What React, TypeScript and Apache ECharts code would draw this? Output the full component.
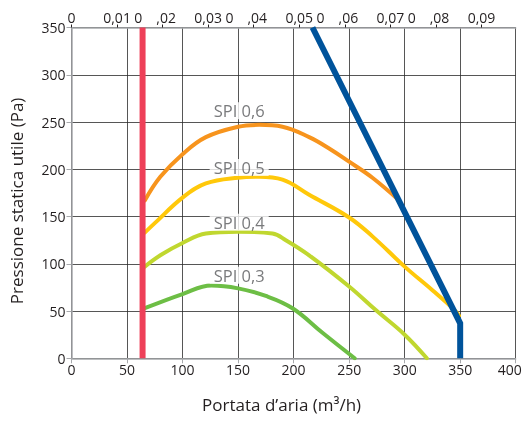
import React, { useEffect, useRef } from "react";
import * as echarts from "echarts";

// ---- data ----
const topTickLabels = ["0", "0,01", "0,02", "0,03", "0,04", "0,05", "0,06", "0,07", "0,08", "0,09"];

const curveNames = ["SPI 0,6", "SPI 0,5", "SPI 0,4", "SPI 0,3"];
const curveColors = ["#F7941D", "#FFC80A", "#C0D72F", "#6DBE45"];

const spi06 = [[66, 167], [80, 192], [100, 216], [121, 234], [150, 245], [169, 247], [190, 245], [214, 234], [232, 222], [250, 208], [271, 191], [295, 167]];
const spi05 = [[66, 133], [75, 143], [100, 170], [121, 185], [150, 191], [169, 192], [190, 189], [214, 173], [250, 149], [271, 129], [300, 97], [325, 72], [345, 51], [349, 45]];
const spi04 = [[66, 97], [80, 109], [100, 122], [121, 132], [150, 134], [181, 132], [193, 125], [214, 109], [250, 76], [274, 51], [300, 25], [320, 0]];
const spi03 = [[66, 53], [100, 68], [126, 77], [150, 74], [175, 66], [199, 53], [226, 27], [255, 0]];
const curves = [spi06, spi05, spi04, spi03];

const redLine = [[64, 0], [64, 350]];
const blueLine = [[217, 350], [350, 37], [350, 0]];

const labelX = [151, 151, 151, 151];
const labelY = [262, 202, 144, 88];

const FONT = "'Open Sans', 'Noto Sans', sans-serif";
const TXT = "#231F20";

export default function App() {
  const ref = useRef<HTMLDivElement>(null);
  useEffect(() => {
    document.body.style.margin = "0";
    document.body.style.overflow = "hidden";
    document.documentElement.style.overflow = "hidden";
    const chart = echarts.init(ref.current!, null, { renderer: "svg", width: 523, height: 423 });
    const topFormatter = (v: number) => {
      const i = Math.round(v * 100);
      if (Math.abs(v * 100 - i) > 1e-6 || i < 0 || i >= topTickLabels.length) return "";
      const s = topTickLabels[i];
      if (i > 0 && i % 2 === 0) {
        const k = s.indexOf(",");
        return `{a|${s.slice(0, k)}}{b|${s.slice(k)}}`;
      }
      return s;
    };
    const series: any[] = curves.map((d, i) => ({
      type: "line",
      name: curveNames[i],
      data: d,
      smooth: 0.4,
      showSymbol: false,
      symbol: "none",
      lineStyle: { color: curveColors[i], width: 4, cap: "round", join: "round" },
      z: 3,
    }));
    series.push({
      type: "line",
      data: blueLine,
      showSymbol: false,
      symbol: "none",
      lineStyle: { color: "#00539B", width: 6, join: "miter" },
      z: 4,
    });
    series.push({
      type: "line",
      data: redLine,
      showSymbol: false,
      symbol: "none",
      lineStyle: { color: "#EE4059", width: 6, cap: "butt" },
      z: 5,
    });
    series.push({
      type: "scatter",
      data: labelX.map((x, i) => [x, labelY[i], curveNames[i]]),
      symbolSize: 0,
      z: 6,
      label: {
        show: true,
        position: "inside",
        formatter: (p: any) => p.data[2],
        color: "#58595B",
        fontFamily: FONT,
        fontSize: 16.5,
        backgroundColor: "#ffffff",
        padding: [0, 4, 0, 4],
      },
    });
    chart.setOption({
      animation: false,
      grid: { left: 71.5, right: 7.3, top: 27.5, bottom: 64.7, containLabel: false, outerBoundsMode: "none" },
      xAxis: [
        {
          type: "value",
          position: "bottom",
          min: 0,
          max: 400,
          interval: 50,
          name: "Portata d’aria (m³/h)",
          nameLocation: "middle",
          nameGap: 38,
          nameTextStyle: { color: TXT, fontFamily: FONT, fontSize: 17, padding: [0, 24, 0, 0] },
          axisLine: { show: true, onZero: false, lineStyle: { color: "#A7A9AC", width: 1.5 } },
          axisTick: { show: true, length: 5, lineStyle: { color: "#A7A9AC" } },
          axisLabel: {
            color: TXT,
            fontFamily: FONT,
            fontSize: 14,
            margin: 4,
            formatter: (v: number) => (v === 400 ? `{r|${v}}` : String(v)),
            rich: { r: { color: TXT, fontFamily: FONT, fontSize: 14, padding: [0, 12, 0, 0] } },
          },
          splitLine: { show: true, lineStyle: { color: "#2b2b2b", width: 0.8 } },
        },
        {
          type: "value",
          position: "top",
          min: 0,
          max: 0.0975,
          interval: 0.01,
          axisLine: { show: true, onZero: false, lineStyle: { color: "#A7A9AC", width: 1.5 } },
          axisTick: { show: true, length: 3, lineStyle: { color: "#231F20" } },
          axisLabel: {
            color: TXT,
            fontFamily: FONT,
            fontSize: 14,
            margin: 3,
            showMaxLabel: false,
            formatter: topFormatter,
            rich: {
              a: { color: TXT, fontFamily: FONT, fontSize: 14, padding: [0, 14, 0, 0] },
              b: { color: TXT, fontFamily: FONT, fontSize: 14, padding: [0, 15, 0, 0] },
            },
          },
          splitLine: { show: false },
        },
      ],
      yAxis: {
        type: "value",
        min: 0,
        max: 350,
        interval: 50,
        name: "Pressione statica utile (Pa)",
        nameLocation: "middle",
        nameGap: 47,
        nameTextStyle: { color: TXT, fontFamily: FONT, fontSize: 17, padding: [0, 16, 0, 0] },
        axisLine: { show: true, lineStyle: { color: "#A7A9AC", width: 1.5 } },
        axisTick: { show: true, length: 5, lineStyle: { color: "#A7A9AC" } },
        axisLabel: { color: TXT, fontFamily: FONT, fontSize: 14, margin: 6 },
        splitLine: { show: true, lineStyle: { color: "#2b2b2b", width: 0.8 } },
      },
      series,
    });
    return () => chart.dispose();
  }, []);
  return <div ref={ref} style={{ position: "fixed", left: 0, top: 0, width: 523, height: 423 }} />;
}
